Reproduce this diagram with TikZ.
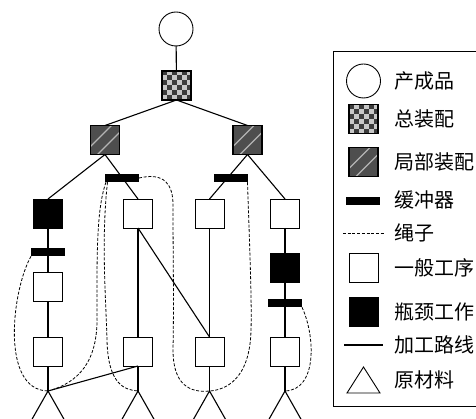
\documentclass[tikz,border=0pt]{standalone}
\usepackage{fontspec}
\newfontfamily\cjk{Noto Sans CJK SC}
\definecolor{chkDark}{HTML}{3A3A3A}
\definecolor{chkLight}{HTML}{C6C6C6}
\definecolor{partDark}{HTML}{4E4E4E}
\definecolor{stripeLight}{HTML}{B4B4B4}
\begin{document}
\begin{tikzpicture}[x=1pt,y=-1pt,
  every node/.style={inner sep=0pt, outer sep=0pt},
  opbox/.style={draw=black, line width=0.9pt, fill=white, minimum size=29pt},
  neckbox/.style={draw=black, line width=0.9pt, fill=black, minimum size=29pt},
  bufbar/.style={fill=black, minimum width=34pt, minimum height=8.5pt},
  prodcircle/.style={circle, draw=black, line width=0.9pt, minimum size=34pt},
  checkerbox/.style={draw=black, line width=1.2pt, fill=chkLight, minimum size=29pt,
    path picture={
      \begin{scope}[shift={(path picture bounding box.center)}]
        \foreach \i in {0,...,5}
          \foreach \j in {0,2,4}
            \fill[chkDark] ({-15+(\j+mod(\i,2))*5},{-15+\i*5}) rectangle ++(5,5);
      \end{scope}}},
  partbox/.style={draw=black, line width=1.2pt, fill=partDark, minimum size=29pt,
    path picture={
      \begin{scope}[shift={(path picture bounding box.center)}]
        \draw[stripeLight, line width=1.1pt] (-20,12) -- (10,-18);
        \draw[stripeLight, line width=1.1pt] (-10,17) -- (18,-11);
      \end{scope}}},
  route/.style={line width=1.1pt},
  rope/.style={line width=0.8pt, dash pattern=on 3pt off 1.7pt},
  legtext/.style={anchor=west, font=\cjk\fontsize{20}{24}\selectfont}]

\useasboundingbox (0,0) rectangle (476,419);
\clip (0,0) rectangle (476,419);

% ---- product structure ----
\node[prodcircle] (prod) at (176,29) {};
\node[checkerbox] (tot) at (176.5,85.5) {};
\node[partbox] (pL) at (105,140) {};
\node[partbox] (pR) at (247.5,140) {};

\node[neckbox] (c1r1) at (48,213.5) {};
\node[opbox]   (c2r1) at (138,213.5) {};
\node[opbox]   (c3r1) at (209.5,213.5) {};
\node[opbox]   (c4r1) at (285,213.5) {};

\node[opbox]   (c1r2) at (48,287) {};
\node[neckbox] (c4r2) at (285,267.5) {};

\node[opbox] (c1r3) at (48,351.5) {};
\node[opbox] (c2r3) at (138,351.5) {};
\node[opbox] (c3r3) at (209.5,351.5) {};
\node[opbox] (c4r3) at (285,351.5) {};

\coordinate (a1) at (48,391);
\coordinate (a2) at (138,391);
\coordinate (a3) at (209.5,391);
\coordinate (a4) at (285,391);

% processing routes
\draw[route] (prod) -- (tot);
\draw[route] (tot.south) -- (pL.north);
\draw[route] (tot.south) -- (pR.north);
\draw[route] (pL.south) -- (c1r1.north);
\draw[route] (pL.south) -- (c2r1.north);
\draw[route] (pR.south) -- (c3r1.north);
\draw[route] (pR.south) -- (c4r1.north);
\draw[route] (c1r1.south) -- (c1r2.north);
\draw[route] (c1r2.south) -- (c1r3.north);
\draw[route] (c1r3.south) -- (a1);
\draw[route] (c2r1.south) -- (c2r3.north);
\draw[route] (c2r1.south) -- (c3r3.north);
\draw[route] (c2r3.south) -- (a2);
\draw[route] (c2r3.south) -- (a1);
\draw[route] (c3r1.south) -- (c3r3.north);
\draw[route] (c3r3.south) -- (a3);
\draw[route] (c4r1.south) -- (c4r2.north);
\draw[route] (c4r2.south) -- (c4r3.north);
\draw[route] (c4r3.south) -- (a4);

% raw materials
\foreach \a in {a1,a2,a3,a4}
  \draw[route] ([shift={(-17,30)}]\a) -- (\a) -- ([shift={(17,30)}]\a);

% buffers
\node[bufbar] (bufL) at (122,178) {};
\node[bufbar] (bufR) at (230.5,178) {};
\node[bufbar] (b1) at (48,252) {};
\node[bufbar] (b4) at (285,303) {};

% ropes
\draw[rope] (b1.south west) .. controls (12,290) and (0,390) .. (a1);
\draw[rope] ([xshift=1pt]bufL.south west) .. controls (96,210) and (97,260) .. (97,320)
  .. controls (97,370) and (70,385) .. (a1);
\draw[rope] ([xshift=2.5pt]bufL.south west) .. controls (101,240) and (106,300) .. (107,340)
  .. controls (108,385) and (125,390) .. (a2);
\draw[rope] (bufL.east) .. controls (165,172) and (173,185) .. (173,205)
  .. controls (173,260) and (174,300) .. (173,350)
  .. controls (173,385) and (190,393) .. (a3);
\draw[rope] (bufR.south east) .. controls (249,230) and (252,300) .. (251,330)
  .. controls (250,380) and (225,390) .. (a3);
\draw[rope] (b4.south east) .. controls (315,335) and (318,390) .. (a4);

% ---- legend ----
\draw[line width=0.8pt] (333,51) rectangle (490,406);

\node[prodcircle] (lgProd) at (363.5,81) {};
\node[legtext] (tProd) at (394,81) {产成品};
\node[checkerbox] (lgTot) at (363.5,119) {};
\node[legtext] (tTot) at (394,119) {总装配};
\node[partbox] (lgPart) at (363.5,162) {};
\node[legtext] (tPart) at (394,162) {局部装配};
\node[bufbar] (lgBuf) at (363,201) {};
\node[legtext] (tBuf) at (394,200) {缓冲器};
\coordinate (lgRopeA) at (343,233);
\coordinate (lgRopeB) at (385,233);
\draw[rope] (lgRopeA) -- (lgRopeB);
\node[legtext] (tRope) at (394,233) {绳子};
\node[opbox] (lgOp) at (363.5,268) {};
\node[legtext] (tOp) at (394,268) {一般工序};
\node[neckbox] (lgNeck) at (363.5,312) {};
\node[legtext] (tNeck) at (394,312) {瓶颈工作};
\coordinate (lgLineA) at (344,345);
\coordinate (lgLineB) at (383,345);
\draw[route] (lgLineA) -- (lgLineB);
\node[legtext] (tLine) at (394,345) {加工路线};
\coordinate (lgTri) at (363.5,367);
\draw[line width=0.9pt] (lgTri) -- ++(-16.5,26) -- ++(33,0) -- cycle;
\node[legtext] (tTri) at (394,380) {原材料};
\end{tikzpicture}
\end{document}
